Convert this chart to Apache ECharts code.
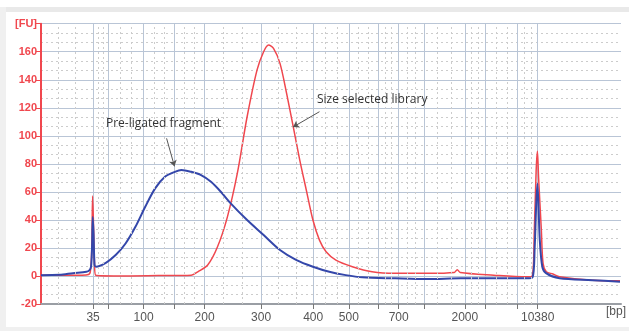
<!DOCTYPE html>
<html>
<head>
<meta charset="utf-8">
<script src="https://cdn.jsdelivr.net/npm/echarts@6/dist/echarts.min.js"></script>
<style>
  html, body { margin: 0; padding: 0; background: #fff; }
  #chart { width: 629px; height: 331px; }
</style>
</head>
<body>
<div id="chart"></div>
<script>
// x is migration time (s), labelled with the ladder sizes in bp
const tickTimes = [47.0, 49.0, 53.8, 57.9, 62.0, 69.6, 76.6, 81.4, 85.3, 88.1, 91.5, 97.0, 99.8, 104.1, 106.8];
const labelTimes = [47.0, 53.8, 62.0, 69.6, 76.6, 81.4, 88.1, 97.0, 106.8];
const labelBp = ['35', '100', '200', '300', '400', '500', '700', '2000', '10380'];

// [time, FU]
const preLigated = [
    [40.0, 0.6], [42.5, 0.8], [44.3, 2], [46.1, 3], [46.5, 4], [46.73, 6.6], [46.86, 20],
    [46.96, 42], [47.07, 30], [47.2, 8], [47.39, 6.6], [48.72, 9.4], [50.04, 14.9],
    [51.37, 23.2], [52.7, 35.1], [54.02, 49.4], [55.35, 62.5], [56.67, 70.8], [58.0, 74.3],
    [58.88, 75.6], [60.2, 74.3], [61.53, 72], [62.86, 67.2], [64.18, 60.1], [65.51, 51.8],
    [67.72, 39.9], [69.94, 29.2], [72.14, 18.5], [74.36, 11.3], [76.57, 6.6], [78.77, 3],
    [80.99, 0.6], [83.2, -1], [87.62, -1.7], [92.0, -2.2], [96.47, -1.7], [100.89, -1.7],
    [105.27, -1.7], [106.1, -1], [106.39, 20], [106.59, 50], [106.76, 66], [107.08, 25.6],
    [107.42, 6.6], [107.92, 2], [109.74, -1.7], [114.15, -3], [117.87, -4.1]
];
const sizeSelected = [
    [40.0, 0.5], [45.17, 0.5], [46.23, 0.8], [46.63, 3], [46.83, 20], [46.94, 57],
    [47.07, 35], [47.19, 10], [47.36, 0.5], [50.48, 0], [55.79, 0.3], [60.2, 0.6],
    [61.09, 3], [62.42, 7.8], [63.74, 20.8], [65.07, 42.2], [66.4, 73.2], [67.72, 113.6],
    [69.05, 146.9], [69.94, 160], [70.6, 164.8], [71.27, 162.4], [72.14, 151.7], [73.03, 130.3],
    [73.92, 106.5], [74.8, 82.7], [75.68, 61.3], [76.57, 39.9], [77.45, 25.6], [78.34, 17.3],
    [79.66, 11.3], [81.88, 6.6], [84.53, 3], [87.62, 1.9], [92.0, 1.9], [95.58, 2.5],
    [95.98, 4.5], [96.38, 2.5], [100.89, 0.6], [105.27, -0.6], [106.06, 0], [106.33, 30],
    [106.59, 75], [106.76, 89], [106.92, 70], [107.29, 32.7], [107.52, 9], [107.96, 3],
    [108.85, 1.4], [109.74, -0.6], [114.15, -3], [117.87, -3.4]
];

const X_MIN = 40, X_MAX = 118;

// dotted grid lines splitting each tick interval in three
const minorX = [];
[X_MIN].concat(tickTimes).forEach(function (a, i, arr) {
    if (i === arr.length - 1) return;
    const b = arr[i + 1];
    minorX.push({ xAxis: a + (b - a) / 3 }, { xAxis: a + 2 * (b - a) / 3 });
});

const chart = echarts.init(document.getElementById('chart'), null, { renderer: 'canvas' });

const option = {
    backgroundColor: '#fff',
    animation: false,
    graphic: [
        { type: 'rect', shape: { x: 0, y: 7, width: 629, height: 5 }, style: { fill: '#e9e9e9' }, z: -10 },
        { type: 'rect', shape: { x: 0, y: 7, width: 6, height: 324 }, style: { fill: '#f0f0f0' }, z: -10 },
        { type: 'rect', shape: { x: 0, y: 327, width: 629, height: 4 }, style: { fill: '#f0f0f0' }, z: -10 },
        {
            type: 'text', left: 106, top: 118, z: 100,
            style: { text: 'Pre-ligated fragment', fill: '#333', font: '12px "Open Sans"' }
        },
        {
            type: 'text', left: 317, top: 94, z: 100,
            style: { text: 'Size selected library', fill: '#333', font: '12px "Open Sans"' }
        }
    ],
    grid: { left: 41, right: 0, top: 23.7, bottom: 27 },
    xAxis: {
        type: 'value',
        min: X_MIN,
        max: X_MAX,
        name: '[bp]',
        nameLocation: 'end',
        nameGap: -15,
        nameTextStyle: { color: '#555', fontSize: 12, fontFamily: 'Liberation Sans', verticalAlign: 'top', align: 'left', padding: [2, 0, 0, 0] },
        axisLine: { onZero: false, lineStyle: { color: '#9a9ea4', width: 2 } },
        axisTick: { customValues: tickTimes, length: 5, lineStyle: { color: '#777' } },
        axisLabel: {
            customValues: labelTimes,
            color: '#555',
            fontSize: 12,
            fontFamily: 'Liberation Sans',
            margin: 8,
            formatter: function (v) {
                const i = labelTimes.findIndex(function (t) { return Math.abs(t - v) < 1e-6; });
                return i >= 0 ? labelBp[i] : '';
            }
        },
        splitLine: { show: true, lineStyle: { color: '#b9c5d6', width: 1 } }
    },
    yAxis: {
        type: 'value',
        min: -20,
        max: 180,
        interval: 20,
        axisLine: { show: true, lineStyle: { color: '#f0474e', width: 2 } },
        axisTick: { show: true, length: 5, lineStyle: { color: '#f0474e' } },
        axisLabel: {
            color: '#f0474e',
            fontSize: 11,
            fontFamily: 'Liberation Sans',
            fontWeight: 'bold',
            margin: 4,
            formatter: function (v) { return v === 180 ? '[FU]' : v; }
        },
        splitLine: { show: true, lineStyle: { color: '#b9c5d6', width: 1 } },
        minorTick: { show: false, splitNumber: 3 },
        minorSplitLine: { show: true, lineStyle: { color: '#cccccc', type: [2, 3] } }
    },
    series: [
        {
            name: 'grid',
            type: 'line',
            data: [],
            z: 1,
            silent: true,
            markLine: {
                silent: true,
                symbol: 'none',
                label: { show: false },
                lineStyle: { color: '#cccccc', type: [2, 3], width: 1 },
                data: minorX
            }
        },
        {
            name: 'Size selected library',
            type: 'line',
            data: sizeSelected,
            showSymbol: false,
            smooth: 0.3,
            lineStyle: { color: '#f0474e', width: 1.5 },
            z: 3,
            markLine: {
                silent: true,
                symbol: ['none', 'arrow'],
                symbolSize: 6,
                label: { show: false },
                lineStyle: { color: '#555', type: 'solid', width: 1 },
                data: [[{ coord: [77.45, 117.2] }, { coord: [73.9, 106.3] }]]
            }
        },
        {
            name: 'Pre-ligated fragment',
            type: 'line',
            data: preLigated,
            showSymbol: false,
            smooth: 0.3,
            lineStyle: { color: '#3447aa', width: 2 },
            z: 4,
            markLine: {
                silent: true,
                symbol: ['none', 'arrow'],
                symbolSize: 6,
                label: { show: false },
                lineStyle: { color: '#555', type: 'solid', width: 1 },
                data: [[{ coord: [56.89, 98.2] }, { coord: [57.95, 78.2] }]]
            }
        }
    ]
};

chart.setOption(option);
</script>
</body>
</html>
